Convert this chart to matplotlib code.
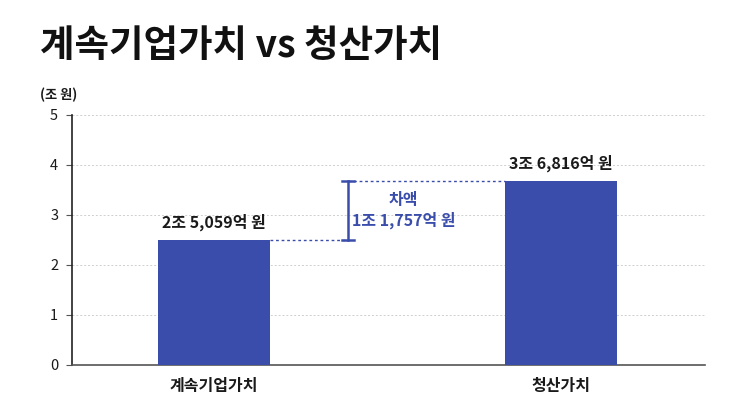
import matplotlib
matplotlib.use("Agg")
import matplotlib.pyplot as plt

plt.rcParams['font.family'] = ['Noto Sans CJK KR', 'DejaVu Sans']

# =========================
# 데이터
# =========================
categories = ["계속기업가치", "청산가치"]
values = [2.5059, 3.6816]
value_labels = ["2조 5,059억 원", "3조 6,816억 원"]
diff_label = "차액\n1조 1,757억 원"
yticks = [0, 1, 2, 3, 4, 5]

bar_color = "#3a4dab"
text_color = "#1a1a1a"

fig = plt.figure(figsize=(7.43, 4.18), dpi=100)
ax = fig.add_axes([72 / 743, 1 - 365 / 418, (705 - 72) / 743, 250 / 418])

x = list(range(len(categories)))
ax.bar(x, values, width=0.323, color=bar_color, zorder=3)

ax.set_xlim(-0.409, 1.415)
ax.set_ylim(0, 5)
ax.set_yticks(yticks)
ax.set_yticklabels([str(t) for t in yticks], fontsize=10.5, fontweight="medium", color=text_color)
ax.set_xticks(x)
ax.set_xticklabels(categories, fontsize=11.5, fontweight="bold", color=text_color)
ax.tick_params(axis="x", length=0, pad=9)
ax.tick_params(axis="y", length=4, width=0.8, color="#555555", pad=6)

ax.grid(axis="y", linestyle=(0, (2, 2)), color="#cfcfcf", linewidth=0.7, zorder=0)
for side in ["top", "right"]:
    ax.spines[side].set_visible(False)
ax.spines["left"].set_color("#222222")
ax.spines["left"].set_linewidth(1.2)
ax.spines["bottom"].set_color("#555555")
ax.spines["bottom"].set_linewidth(1.2)

# 막대 위 값
for xi, v, lab in zip(x, values, value_labels):
    ax.text(xi, v + 0.17, lab, ha="center", va="bottom", fontsize=11.5,
            fontweight="bold", color=text_color)

# 차액 표시
gap_x = 0.387
half = 0.323 / 2
ax.plot([x[0] + half, gap_x], [values[0], values[0]], linestyle=(0, (2, 2)),
        color=bar_color, linewidth=1, zorder=4)
ax.plot([gap_x, x[1] - half], [values[1], values[1]], linestyle=(0, (2, 2)),
        color=bar_color, linewidth=1, zorder=4)
ax.plot([gap_x, gap_x], [values[0], values[1]], color=bar_color, linewidth=1.8, zorder=4)
for v in values:
    ax.plot([gap_x - 0.018, gap_x + 0.018], [v, v], color=bar_color, linewidth=1.8, zorder=4)
ax.text(0.547, (values[0] + values[1]) / 2, diff_label, ha="center", va="center",
        fontsize=11.5, fontweight="bold", color=bar_color, linespacing=1.25)

# 제목과 단위
fig.text(40 / 743, 1 - 45 / 418, "계속기업가치 vs 청산가치", fontsize=27,
         fontweight="black", color="#111111", va="center", ha="left")
fig.text(40 / 743, 1 - 95 / 418, "(조 원)", fontsize=9.5, fontweight="bold",
         color=text_color, va="center", ha="left")

fig.savefig("out.png", dpi=100, facecolor="white")
